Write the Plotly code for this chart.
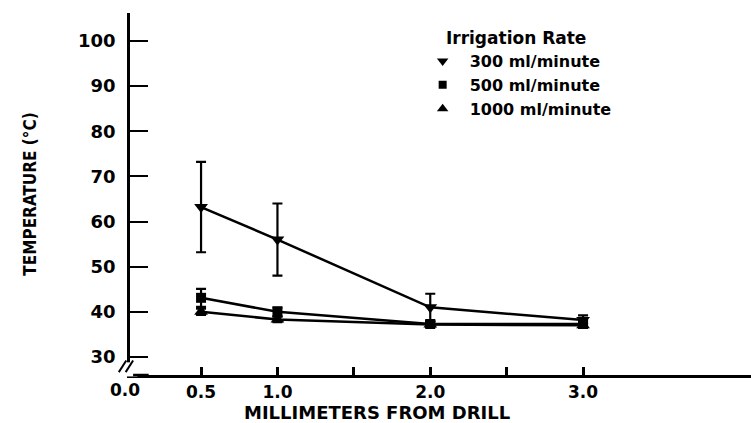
import plotly.graph_objects as go

# Data
distance_mm = [0.5, 1.0, 2.0, 3.0]
temp_300 = [63.2, 56.0, 41.0, 38.2]
err_300 = [10.0, 8.0, 3.0, 1.0]
temp_500 = [43.1, 40.0, 37.3, 37.3]
err_500 = [2.0, 1.0, 0.6, 0.7]
temp_1000 = [40.0, 38.3, 37.2, 37.0]
err_1000 = [0.7, 0.6, 0.5, 0.5]
series_names = ["300 ml/minute", "500 ml/minute", "1000 ml/minute"]
x_tickvals = [0.5, 1.0, 1.5, 2.0, 2.5, 3.0]
x_ticktext = ["0.5", "1.0", "", "2.0", "", "3.0"]
y_tickvals = [30, 40, 50, 60, 70, 80, 90, 100]

FONT = "DejaVu Sans"
NARROW = "DejaVu Sans Condensed, Liberation Sans, sans-serif"
X0 = 0.035
XSPAN = 621 / 152.8

fig = go.Figure()

symbols = ["triangle-down", "square", "triangle-up"]
sizes = [12, 10, 12]
for ys, es, name, sym, sz in zip([temp_300, temp_500, temp_1000],
                                 [err_300, err_500, err_1000],
                                 series_names, symbols, sizes):
    fig.add_trace(go.Scatter(
        x=distance_mm, y=ys, mode="lines+markers", showlegend=False,
        line=dict(color="black", width=2.5),
        marker=dict(symbol=sym, size=sz, color="black"),
        error_y=dict(type="data", array=es, color="black", thickness=2.2, width=5),
        cliponaxis=False,
    ))
    fig.add_trace(go.Scatter(
        x=[None], y=[None], mode="markers", name=name,
        marker=dict(symbol=sym, size=sz - 2, color="black"),
    ))

# axis break marks (corner of axes)
fig.add_shape(type="rect", xref="paper", yref="paper", x0=-0.02, x1=0.012,
              y0=-0.004, y1=0.035, fillcolor="white", line=dict(width=0), layer="above")
for dx in [0.0, 0.011]:
    fig.add_shape(type="line", xref="paper", yref="paper",
                  x0=-0.018 + dx, y0=0.008, x1=-0.006 + dx, y1=0.04,
                  line=dict(color="black", width=2), layer="above")
fig.add_shape(type="line", xref="paper", yref="paper", x0=0.005, y0=0.0,
              x1=0.03, y1=0.0, line=dict(color="black", width=2.5), layer="above")

fig.add_annotation(x=(0.0 - X0) / XSPAN, y=0, xref="paper", yref="paper", text="0.0",
                   showarrow=False, xanchor="center", yanchor="top", yshift=-3,
                   font=dict(family=FONT, size=17, color="black", weight="bold"))
fig.add_annotation(x=(377 - 130) / 621, y=0, xref="paper", yref="paper",
                   text="MILLIMETERS FROM DRILL", showarrow=False,
                   xanchor="center", yanchor="top", yshift=-25,
                   font=dict(family=FONT, size=18, color="black", weight="bold"))

fig.update_layout(
    width=751, height=423,
    margin=dict(l=130, r=0, t=13, b=48),
    paper_bgcolor="white", plot_bgcolor="white",
    font=dict(family=FONT, color="black"),
    xaxis=dict(
        range=[X0, X0 + XSPAN],
        tickvals=x_tickvals, ticktext=x_ticktext,
        ticks="inside", ticklen=8, tickwidth=2.5, tickcolor="black",
        showline=True, linecolor="black", linewidth=2.5,
        showgrid=False, zeroline=False,
        tickfont=dict(family=FONT, size=17, weight="bold"),
    ),
    yaxis=dict(
        range=[26.0, 106.2],
        tickvals=y_tickvals,
        ticks="inside", ticklen=18, tickwidth=2.2, tickcolor="black",
        showline=True, linecolor="black", linewidth=2.5,
        showgrid=False, zeroline=False,
        ticklabelstandoff=8,
        tickfont=dict(family=FONT, size=18, weight="bold"),
        title=dict(text="TEMPERATURE (°C)", standoff=38,
                   font=dict(family=NARROW, size=17, weight="bold")),
    ),
    legend=dict(
        x=0.46, y=0.975, xanchor="left", yanchor="top",
        bgcolor="rgba(0,0,0,0)",
        font=dict(family=FONT, size=16, weight="bold"),
        title=dict(text="Irrigation Rate", side="top center",
                   font=dict(family=FONT, size=17, weight="bold")),
        tracegroupgap=0, itemwidth=44,
    ),
)

fig.write_html("out.html")
